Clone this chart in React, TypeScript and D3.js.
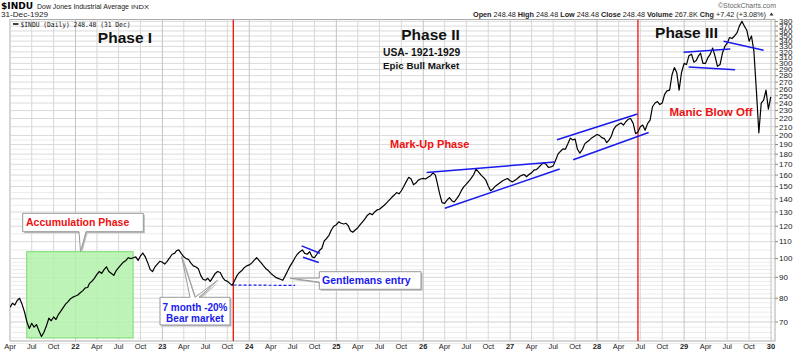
import * as d3 from "d3";

const dow1921 = [76.0, 77.8, 77.0, 79.0, 80.0, 77.5, 74.0, 70.0, 67.5, 69.5, 68.0, 69.0, 66.5, 64.5, 66.0, 68.5, 71.5, 70.5, 72.0, 71.0, 73.0, 74.5, 76.0, 77.5, 78.5, 79.8, 80.5];
const dow1922 = [81.0, 81.5, 82.5, 83.5, 84.8, 85.0, 87.0, 88.0, 89.5, 91.5, 93.0, 92.0, 94.0, 95.5, 93.0, 92.0, 91.0, 93.5, 95.0, 96.5, 98.0, 99.0, 100.5, 100.0, 100.5, 101.0, 99.0, 101.5, 103.2, 101.0, 97.5, 94.0, 93.0, 95.5, 97.0, 98.5];
const dow1923 = [98.0, 97.0, 98.5, 100.5, 102.5, 103.0, 104.5, 105.0, 103.0, 101.0, 100.0, 99.5, 97.5, 96.0, 95.5, 94.5, 91.0, 89.0, 88.5, 89.5, 88.0, 90.0, 92.0, 93.0, 92.5, 90.0, 88.5, 88.0, 87.0, 86.0, 88.5, 91.0, 92.5, 93.5, 95.0, 96.0];
const dow1924 = [96.5, 97.5, 99.0, 100.5, 99.0, 97.5, 96.0, 94.5, 93.5, 92.0, 91.0, 90.0, 89.5, 89.0, 88.5, 91.0, 93.5, 96.0, 98.0, 100.5, 102.5, 104.0, 105.0, 103.0, 102.5, 104.0, 101.0, 100.5, 102.5, 104.5, 106.0, 110.5, 112.0, 114.0, 117.5, 120.0];
const dow1925 = [121.0, 123.0, 122.0, 121.5, 122.0, 120.0, 117.0, 116.0, 117.5, 119.0, 121.0, 123.0, 125.0, 127.5, 129.0, 128.0, 130.0, 131.5, 132.0, 133.5, 135.0, 137.0, 139.0, 141.0, 143.0, 145.0, 144.0, 146.5, 150.0, 154.0, 158.0, 156.5, 151.5, 153.0, 155.5, 156.5];
const dow1926 = [157.0, 156.5, 158.0, 159.5, 162.0, 160.0, 153.0, 144.0, 137.0, 136.5, 139.0, 141.0, 138.5, 137.5, 140.0, 143.0, 147.0, 150.0, 152.0, 154.5, 157.0, 160.5, 165.5, 163.0, 160.0, 158.0, 155.5, 150.5, 146.5, 148.0, 150.5, 152.0, 153.5, 155.0, 156.0, 157.0];
const dow1927 = [155.0, 154.0, 155.5, 157.0, 159.0, 160.0, 160.5, 158.5, 160.5, 162.0, 164.5, 165.0, 167.0, 169.5, 171.5, 170.0, 167.0, 167.5, 168.5, 174.0, 180.0, 183.0, 185.5, 185.0, 191.0, 197.0, 195.0, 196.0, 185.0, 181.0, 185.0, 191.0, 193.0, 195.0, 197.5, 199.0];
const dow1928 = [201.0, 200.0, 197.5, 196.5, 192.0, 195.0, 199.0, 207.0, 211.0, 213.0, 214.5, 212.0, 216.0, 219.0, 220.0, 214.0, 202.0, 204.0, 210.0, 212.0, 206.0, 214.0, 218.0, 235.0, 240.0, 242.0, 238.0, 240.0, 252.0, 257.0, 258.0, 281.0, 293.0, 285.0, 258.0, 285.0];
const dow1929 = [300.0, 298.0, 313.0, 316.0, 302.0, 305.0, 312.0, 318.0, 300.0, 300.0, 310.0, 316.0, 327.0, 312.0, 295.0, 298.0, 318.0, 330.0, 336.0, 347.0, 345.0, 350.0, 356.0, 370.0, 380.0, 370.0, 362.0, 340.0, 350.0, 322.0, 255.0, 203.0, 240.0, 244.0, 258.0, 232.0];
const lastClose = 248.48;

// Phase markers and trend lines drawn by the analyst
const phaseDates = [new Date(1923, 9, 26), new Date(1928, 5, 21)];
const trendLines = [
  [[new Date(1924, 7, 8), 107.4], [new Date(1924, 9, 24), 103.1]],
  [[new Date(1924, 7, 14), 100.8], [new Date(1924, 9, 19), 97.8]],
  [[new Date(1926, 0, 15), 162.4], [new Date(1927, 6, 7), 172.2]],
  [[new Date(1926, 3, 2), 132.8], [new Date(1927, 6, 28), 165.5]],
  [[new Date(1927, 6, 17), 195.2], [new Date(1928, 5, 19), 225.7]],
  [[new Date(1927, 8, 23), 174.4], [new Date(1928, 7, 5), 203.4]],
  [[new Date(1928, 11, 30), 319.3], [new Date(1929, 6, 14), 325.3]],
  [[new Date(1929, 0, 20), 294.1], [new Date(1929, 7, 3), 289.6]],
  [[new Date(1929, 5, 16), 339.7], [new Date(1929, 11, 1), 322.8]],
] as [Date, number][][];
const supportLine: [Date, number][] = [[new Date(1923, 9, 27), 86.2], [new Date(1924, 6, 12), 86.0]];
const accumulation = { from: new Date(1921, 5, 10), to: new Date(1922, 7, 31), low: 64, high: 104 };

const priceLabels = d3.range(70, 390, 10);
const minorGrid = [...d3.range(62, 100, 2), ...d3.range(105, 200, 10)];

const SLOT_DAYS = [1, 11, 21];
const toSeries = (year: number, startMonth: number, vals: number[]) =>
  vals.map((v, i) => ({ date: new Date(year, startMonth + Math.floor(i / 3), SLOT_DAYS[i % 3]), value: v }));

const series = [
  ...toSeries(1921, 3, dow1921),
  ...toSeries(1922, 0, dow1922),
  ...toSeries(1923, 0, dow1923),
  ...toSeries(1924, 0, dow1924),
  ...toSeries(1925, 0, dow1925),
  ...toSeries(1926, 0, dow1926),
  ...toSeries(1927, 0, dow1927),
  ...toSeries(1928, 0, dow1928),
  ...toSeries(1929, 0, dow1929),
  { date: new Date(1929, 11, 31), value: lastClose },
];

const W = 800;
const H = 352;
const plot = { left: 10, right: 775, top: 19.5, bottom: 341 };

const x = d3.scaleTime().domain([new Date(1922, 0, 1), new Date(1930, 0, 1)]).range([75.5, 771]);
const y = d3.scaleLog().domain([62.9, 384]).range([plot.bottom, plot.top]);

const line = d3
  .line<{ date: Date; value: number }>()
  .x((d) => x(d.date))
  .y((d) => y(d.value));

const quarters = d3
  .timeMonth.every(3)!
  .range(new Date(1921, 0, 1), new Date(1930, 0, 2))
  .filter((d) => x(d) >= plot.left - 1 && x(d) <= plot.right);

const SANS = "'Liberation Sans', Arial, sans-serif";
const RED = "#ee1111";
const BLUE = "#1a1aee";

function Callout({ d, shadow = true }: { d: string; shadow?: boolean }) {
  return (
    <g>
      {shadow && <path d={d} transform="translate(1.5,1.5)" fill="#bbb" />}
      <path d={d} fill="#fff" stroke="#999" strokeWidth={1} />
    </g>
  );
}

export default function App() {
  return (
    <div style={{ position: "fixed", left: 0, top: 0, background: "#fff" }}>
      <svg width={W} height={H} style={{ display: "block" }} fontFamily={SANS}>
        <defs>
          <clipPath id="plotClip">
            <rect x={plot.left} y={plot.top} width={plot.right - plot.left} height={plot.bottom - plot.top} />
          </clipPath>
        </defs>
        <rect width={W} height={H} fill="#fff" />

        {/* header */}
        <text x={1} y={8.5} fontFamily="'DejaVu Sans', sans-serif" fontWeight="bold" fontSize={9} textLength={32} lengthAdjust="spacingAndGlyphs">$INDU</text>
        <text x={37} y={8.5} fontSize={7.5} textLength={92} lengthAdjust="spacingAndGlyphs" fill="#222">Dow Jones Industrial Average</text>
        <text x={131} y={8.5} fontSize={6} textLength={18} lengthAdjust="spacingAndGlyphs" fill="#222">INDX</text>
        <text x={1} y={16.5} fontSize={7} textLength={47} lengthAdjust="spacingAndGlyphs" fill="#222">31-Dec-1929</text>
        <text x={718} y={7.5} fontSize={6.5} textLength={58} lengthAdjust="spacingAndGlyphs" fill="#666">©StockCharts.com</text>
        <text x={473} y={16.5} fontSize={7.5} textLength={293} lengthAdjust="spacingAndGlyphs" fill="#222">
          <tspan fontWeight="bold">Open</tspan> 248.48 <tspan fontWeight="bold">High</tspan> 248.48{" "}
          <tspan fontWeight="bold">Low</tspan> 248.48 <tspan fontWeight="bold">Close</tspan> 248.48{" "}
          <tspan fontWeight="bold">Volume</tspan> 267.8K <tspan fontWeight="bold">Chg</tspan> +7.42 (+3.08%)
        </text>
        <path d="M769.5,15.5 L773.5,15.5 L771.5,12.5 Z" fill="#333" />

        {/* grid */}
        <rect x={plot.left} y={plot.top} width={plot.right - plot.left} height={plot.bottom - plot.top} fill="#fff" stroke="#aaa" />
        {minorGrid.map((v) => (
          <line key={`m${v}`} x1={plot.left} x2={plot.right} y1={y(v)} y2={y(v)} stroke="#ececec" strokeWidth={1} />
        ))}
        {priceLabels.map((v) => (
          <line key={`g${v}`} x1={plot.left} x2={plot.right} y1={y(v)} y2={y(v)} stroke="#dadada" strokeWidth={1} />
        ))}
        {quarters.map((d) => (
          <line
            key={`q${+d}`}
            x1={x(d)}
            x2={x(d)}
            y1={plot.top}
            y2={plot.bottom}
            stroke={d.getMonth() === 0 ? "#c4c4c4" : "#d8d8d8"}
            strokeWidth={1}
          />
        ))}

        {/* legend */}
        <line x1={13} x2={18.5} y1={24} y2={24} stroke="#000" strokeWidth={1.5} />
        <text x={20.5} y={26.5} fontFamily="'DejaVu Sans Mono', monospace" fontSize={7} textLength={110} lengthAdjust="spacingAndGlyphs" fill="#111">
          $INDU (Daily) 248.48 (31 Dec)
        </text>

        <g clipPath="url(#plotClip)">
          {/* accumulation zone */}
          <rect
            x={x(accumulation.from)}
            y={y(accumulation.high)}
            width={x(accumulation.to) - x(accumulation.from)}
            height={y(accumulation.low) - y(accumulation.high)}
            fill="#b4f2ac"
            fillOpacity={0.85}
            stroke="#88e080"
            strokeWidth={1.2}
          />

          {phaseDates.map((d) => (
            <line key={+d} x1={x(d)} x2={x(d)} y1={plot.top} y2={plot.bottom} stroke={RED} strokeWidth={1.3} />
          ))}

          <path d={line(series) ?? ""} fill="none" stroke="#000" strokeWidth={1.2} strokeLinejoin="round" />

          {trendLines.map((t, i) => (
            <line
              key={i}
              x1={x(t[0][0])}
              y1={y(t[0][1])}
              x2={x(t[1][0])}
              y2={y(t[1][1])}
              stroke={BLUE}
              strokeWidth={1.5}
            />
          ))}
          <line
            x1={x(supportLine[0][0])}
            y1={y(supportLine[0][1])}
            x2={x(supportLine[1][0])}
            y2={y(supportLine[1][1])}
            stroke={BLUE}
            strokeWidth={1.2}
            strokeDasharray="3,2"
          />
        </g>

        {/* y axis labels */}
        {priceLabels.map((v) => (
          <g key={`yl${v}`}>
            <line x1={plot.right} x2={plot.right + 3} y1={y(v)} y2={y(v)} stroke="#888" />
            <text x={779} y={y(v)} dy="0.35em" fontSize={8} fill="#222">
              {v}
            </text>
          </g>
        ))}

        {/* x axis labels */}
        {quarters.map((d) => {
          const isYear = d.getMonth() === 0;
          return (
            <text
              key={`xl${+d}`}
              x={x(d)}
              y={349}
              textAnchor="middle"
              fontSize={7.5}
              fontWeight={isYear ? "bold" : "normal"}
              fill="#222"
            >
              {isYear ? d3.timeFormat("%y")(d) : d3.timeFormat("%b")(d)}
            </text>
          );
        })}

        {/* phase titles */}
        <text x={125} y={42.5} textAnchor="middle" fontSize={15.5} fontWeight="bold" fill="#111">Phase I</text>
        <text x={430.5} y={40} textAnchor="middle" fontSize={15.5} fontWeight="bold" fill="#111">Phase II</text>
        <text x={383} y={55.5} fontSize={10.3} fontWeight="bold" fill="#111">USA- 1921-1929</text>
        <text x={383} y={68.5} fontSize={9.8} fontWeight="bold" fill="#111">Epic Bull Market</text>
        <text x={686.5} y={37.5} textAnchor="middle" fontSize={15.5} fontWeight="bold" fill="#111">Phase III</text>
        <text x={669.5} y={116} fontSize={11.5} fontWeight="bold" fill={RED}>Manic Blow Off</text>
        <text x={390} y={148} fontSize={11} fontWeight="bold" fill={RED}>Mark-Up Phase</text>

        {/* callouts */}
        <Callout d="M22.7,213.3 H143.3 V231.7 H86 L80.5,251.5 L79,231.7 H22.7 Z" />
        <text x={26} y={226} fontSize={10.5} fontWeight="bold" fill={RED}>Accumulation Phase</text>

        <Callout d="M160,297.3 H190 L181.7,256.5 L195,297.3 L217.5,280.5 L199,297.3 H230 V325 H160 Z" />
        <text x={195} y={310.5} textAnchor="middle" fontSize={10} fontWeight="bold" fill={BLUE}>7 month -20%</text>
        <text x={195} y={321.5} textAnchor="middle" fontSize={10} fontWeight="bold" fill={BLUE}>Bear market</text>

        <Callout d="M319.3,271.7 H421 V289.3 H319.3 V282 L290,278.3 L319.3,278 Z" />
        <text x={322} y={284} fontSize={10.5} fontWeight="bold" fill={BLUE}>Gentlemans entry</text>
      </svg>
    </div>
  );
}
